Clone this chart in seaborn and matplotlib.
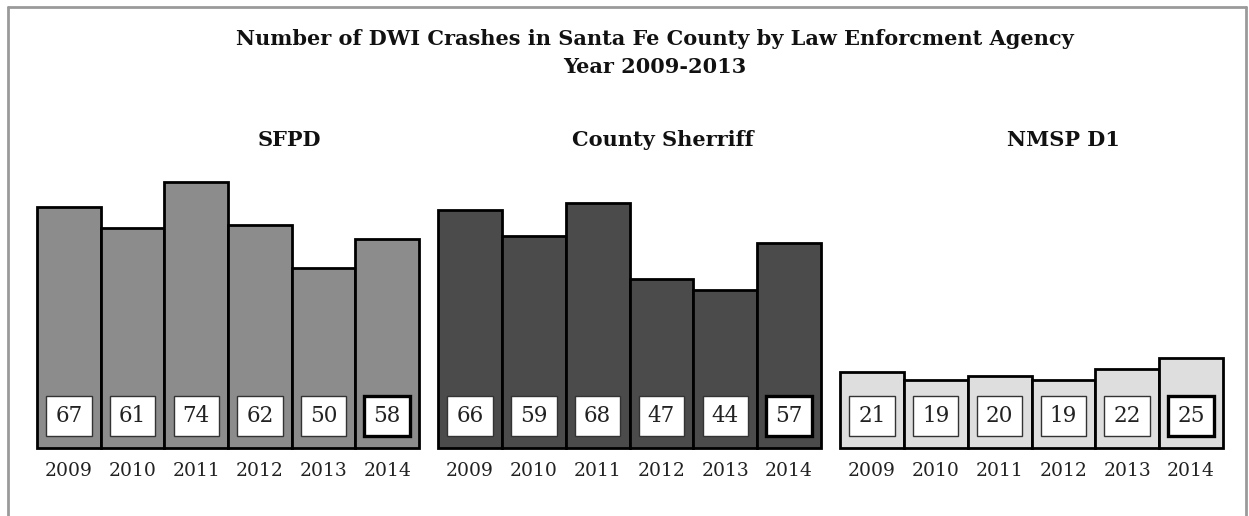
#!/usr/bin/env python3
"""
DWI crashes in Santa Fe County by law enforcement agency, 2009-2014.
"""

import pandas as pd
import matplotlib.pyplot as plt
import seaborn as sns
from matplotlib.lines import Line2D

YEARS = ["2009", "2010", "2011", "2012", "2013", "2014"]
AGENCIES = ["SFPD", "County Sherriff", "NMSP D1"]
SFPD = [67, 61, 74, 62, 50, 58]
SHERIFF = [66, 59, 68, 47, 44, 57]
NMSP = [21, 19, 20, 19, 22, 25]
COLORS = ["#8c8c8c", "#4b4b4b", "#dedede"]

TITLE = "Number of DWI Crashes in Santa Fe County by Law Enforcment Agency\nYear 2009-2013"

sns.set_theme(style="white")
plt.rcParams["font.family"] = ["DejaVu Serif"]

W, H = 1249, 516
fig = plt.figure(figsize=(W / 100, H / 100), dpi=100)

# panel left/right edges in pixels
panel_px = [(37, 419), (438, 821), (840, 1223)]
title_x_px = [289, 663, 1063]
base_px, top_px = 448, 88

for k, (agency, values) in enumerate(zip(AGENCIES, [SFPD, SHERIFF, NMSP])):
    x0, x1 = panel_px[k]
    ax = fig.add_axes([x0 / W, (H - base_px) / H, (x1 - x0) / W, (base_px - top_px) / H])
    df = pd.DataFrame({"Year": YEARS, "Crashes": values})
    sns.barplot(data=df, x="Year", y="Crashes", ax=ax, color=COLORS[k],
                saturation=1, width=1, edgecolor="black", linewidth=2)
    for p in ax.patches:
        p.set_clip_on(False)
    ax.set_xlim(-0.5, len(YEARS) - 0.5)
    ax.set_ylim(0, 100)
    ax.set_xlabel("")
    ax.set_ylabel("")
    ax.set_yticks([])
    ax.tick_params(axis="x", length=0, pad=10, labelsize=13.5, labelcolor="#222222")
    sns.despine(ax=ax, left=True, bottom=True)
    for i, v in enumerate(values):
        last = i == len(values) - 1
        ax.text(i, 8.9, str(v), ha="center", va="center", fontsize=15.5, color="#222222",
                bbox=dict(boxstyle="square,pad=0.42", fc="white",
                          ec="black" if last else "#333333", lw=2.4 if last else 1.0))
    fig.text(title_x_px[k] / W, 1 - 140 / H, agency, ha="center", va="center",
             fontsize=15, fontweight="bold", color="#111111")

fig.text(655 / W, 1 - 53 / H, TITLE, ha="center", va="center", fontsize=15,
         fontweight="bold", color="#111111", linespacing=1.55)

# outer frame
frame = dict(transform=fig.transFigure, color="#9a9a9a", lw=2)
fig.add_artist(Line2D([8 / W, 8 / W], [0, 1 - 7 / H], **frame))
fig.add_artist(Line2D([8 / W, 1246 / W], [1 - 7 / H, 1 - 7 / H], **frame))
fig.add_artist(Line2D([1246 / W, 1246 / W], [0, 1 - 7 / H], **frame))

fig.savefig("out.png", dpi=100)
plt.close(fig)
